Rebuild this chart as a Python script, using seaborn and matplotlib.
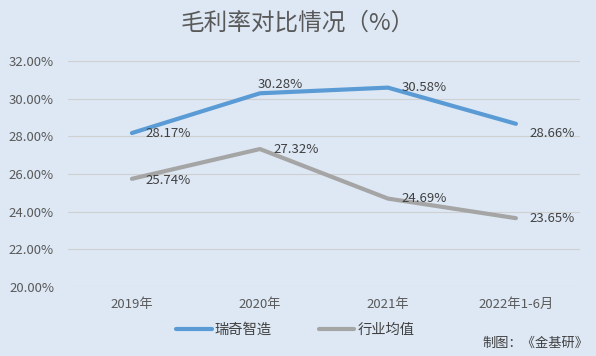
import pandas as pd
import matplotlib.pyplot as plt
import seaborn as sns

# data
years = ["2019年", "2020年", "2021年", "2022年1-6月"]
ruiqi = [28.17, 30.28, 30.58, 28.66]
industry = [25.74, 27.32, 24.69, 23.65]
series_names = ["瑞奇智造", "行业均值"]

df = pd.DataFrame({
    "year": years * 2,
    "value": ruiqi + industry,
    "series": [series_names[0]] * 4 + [series_names[1]] * 4,
})

bg = "#dde8f4"
sns.set_theme(style="white")
plt.rcParams['font.family'] = ['Noto Sans CJK SC', 'DejaVu Sans']

fig = plt.figure(figsize=(5.96, 3.56), dpi=100, facecolor=bg)
ax = fig.add_axes([0.114, 0.194, 0.859, 0.635])
ax.set_facecolor(bg)

palette = {"瑞奇智造": "#5b9bd5", "行业均值": "#a5a5a5"}
sns.lineplot(data=df, x="year", y="value", hue="series", palette=palette,
             linewidth=3, sort=False, ax=ax, legend=False)

ax.set_ylim(20, 32)
ax.set_xlim(-0.5, 3.5)
ax.set_yticks(range(20, 33, 2))
ax.set_yticklabels([f"{v:.2f}%" for v in range(20, 33, 2)])
ax.yaxis.grid(True, color="#d0d0d0", linewidth=0.8)
for s in ax.spines.values():
    s.set_visible(False)
ax.tick_params(axis="y", length=0, labelsize=9.5, colors="#595959", pad=10)
ax.tick_params(axis="x", length=0, labelsize=9.5, colors="#595959", pad=8)
ax.set_xlabel("")
ax.set_ylabel("")

# data labels
offsets_r = [(10, 0), (-2, 6), (10, 0), (10, -7)]
offsets_i = [(10, -1), (10, 0), (10, 0), (10, 0)]
for i, v in enumerate(ruiqi):
    ax.annotate(f"{v:.2f}%", (i, v), xytext=offsets_r[i], textcoords="offset points",
                fontsize=9.5, color="#404040", va="center", ha="left")
for i, v in enumerate(industry):
    ax.annotate(f"{v:.2f}%", (i, v), xytext=offsets_i[i], textcoords="offset points",
                fontsize=9.5, color="#404040", va="center", ha="left")

fig.text(0.5, 0.935, "毛利率对比情况（%）", ha="center", va="center",
         fontsize=17, color="#595959")

handles = [plt.Line2D([], [], color=palette[n], linewidth=3) for n in series_names]
fig.legend(handles, series_names, loc="center", bbox_to_anchor=(0.495, 0.073), ncol=2,
           frameon=False, fontsize=10.3, labelcolor="#404040", handlelength=2.5,
           handletextpad=0.2, columnspacing=3.3)

fig.text(0.987, 0.036, "制图：《金基研》", ha="right", va="center", fontsize=9.5, color="#404040")

fig.savefig("out.png", dpi=100, facecolor=bg)
